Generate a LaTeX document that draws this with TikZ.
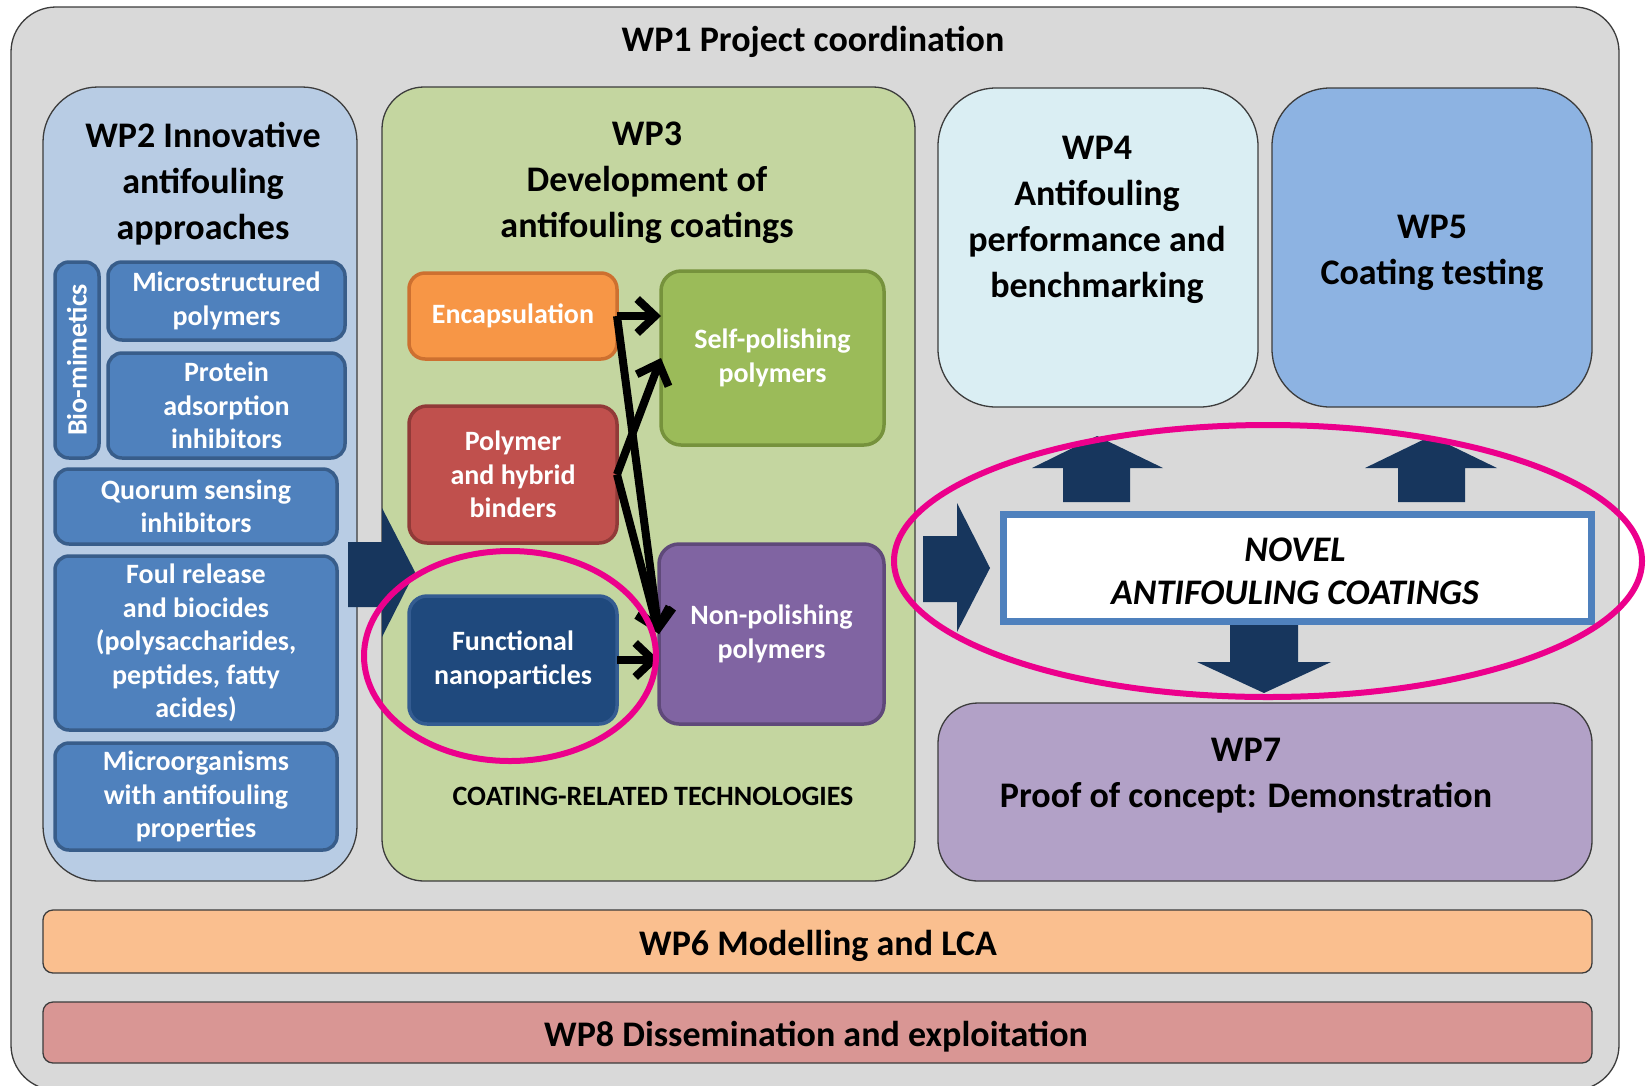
\documentclass[tikz,border=0pt]{standalone}
\usepackage{fontspec}
\setmainfont{Carlito}
\usetikzlibrary{arrows.meta,calc}
\definecolor{outerfill}{RGB}{217,217,217}
\definecolor{wptwo}{RGB}{184,204,228}
\definecolor{wpthree}{RGB}{196,214,160}
\definecolor{wpfour}{RGB}{218,238,243}
\definecolor{wpfive}{RGB}{141,179,226}
\definecolor{wpseven}{RGB}{178,161,199}
\definecolor{wpsix}{RGB}{250,191,143}
\definecolor{wpeight}{RGB}{217,150,148}
\definecolor{bluebox}{RGB}{79,129,189}
\definecolor{blueboxline}{RGB}{56,93,138}
\definecolor{encfill}{RGB}{247,150,70}
\definecolor{encline}{RGB}{205,112,48}
\definecolor{bindfill}{RGB}{192,80,77}
\definecolor{bindline}{RGB}{145,58,56}
\definecolor{fnfill}{RGB}{31,73,125}
\definecolor{fnline}{RGB}{52,92,145}
\definecolor{spfill}{RGB}{155,187,89}
\definecolor{spline}{RGB}{118,146,60}
\definecolor{npfill}{RGB}{128,100,162}
\definecolor{npline}{RGB}{95,73,122}
\definecolor{darkarrow}{RGB}{23,54,93}
\definecolor{hlpink}{RGB}{236,0,140}
\definecolor{framegray}{RGB}{60,60,60}
\newcommand{\wpbig}{\fontsize{36}{46}\selectfont\bfseries}
\newcommand{\wpsmall}{\fontsize{28}{33.5}\selectfont\bfseries}
\begin{document}
\begin{tikzpicture}[x=1pt,y=-1pt,
  wpbox/.style={draw=framegray, line width=1.3pt, inner sep=0pt, outer sep=0pt},
  tbox/.style={line width=3.5pt, inner sep=0pt, outer sep=0pt, text=white, align=center, font=\wpsmall},
  bluetbox/.style={tbox, fill=bluebox, draw=blueboxline, rounded corners=14pt},
  bigtxt/.style={align=center, font=\wpbig, inner sep=0pt},
  conn/.style={draw=black, line width=8pt, -{Straight Barb[length=18pt,width=34pt]}},
  blockarrow/.style={fill=darkarrow},
  highlight/.style={draw=hlpink, line width=6pt}]
\path[use as bounding box] (0,0) rectangle (1646,1085);
\fill[white] (0,0) rectangle (1646,1085);
\clip (0,0) rectangle (1646,1085);
% outer WP1
\node[wpbox, fill=outerfill, rounded corners=45pt, minimum width=1608pt, minimum height=1083pt] (wp1) at (815,548.5) {};
\node[bigtxt] (wp1t) at (813,42) {WP1 Project coordination};
% main boxes
\node[wpbox, fill=wptwo, rounded corners=55pt, minimum width=314pt, minimum height=794pt] (wp2) at (200,484) {};
\node[wpbox, fill=wpthree, rounded corners=42pt, minimum width=533pt, minimum height=794pt] (wp3) at (648.5,484) {};
\node[wpbox, fill=wpfour, rounded corners=58pt, minimum width=320pt, minimum height=319pt] (wp4) at (1098,247.5) {};
\node[wpbox, fill=wpfive, rounded corners=58pt, minimum width=320pt, minimum height=319pt] (wp5) at (1432,247.5) {};
\node[wpbox, fill=wpseven, rounded corners=40pt, minimum width=654pt, minimum height=178pt] (wp7) at (1265,792) {};
\node[wpbox, fill=wpsix, rounded corners=10pt, minimum width=1549pt, minimum height=63pt] (wp6) at (817.5,941.5) {};
\node[wpbox, fill=wpeight, rounded corners=10pt, minimum width=1549pt, minimum height=61pt] (wp8) at (817.5,1032.5) {};
% titles
\node[bigtxt] (wp2t) at (203,184) {WP2 Innovative\\antifouling\\approaches};
\node[bigtxt] (wp3t) at (647,183) {WP3\\Development of\\antifouling coatings};
\node[bigtxt] (wp4t) at (1097,220) {WP4\\Antifouling\\performance and\\benchmarking};
\node[bigtxt] (wp5t) at (1432,253) {WP5\\Coating testing};
\node[bigtxt] (wp7t) at (1246,776) {WP7\\Proof of concept: Demonstration};
\node[bigtxt] (wp6t) at (818,946) {WP6 Modelling and LCA};
\node[bigtxt] (wp8t) at (816,1037) {WP8 Dissemination and exploitation};
% block arrow WP2 -> WP3
\fill[blockarrow] (348,542) -- (382,542) -- (382,508) -- (415,572) -- (382,637) -- (382,607) -- (348,607) -- cycle;
% WP2 inner boxes
\node[bluetbox, rotate=90, minimum width=196pt, minimum height=44pt] (bio) at (77,360) {Bio-mimetics};
\node[bluetbox, minimum width=237pt, minimum height=78pt] (micro) at (226.5,301) {Microstructured\\polymers};
\node[bluetbox, minimum width=237pt, minimum height=105pt] (prot) at (226.5,405.5) {Protein\\adsorption\\inhibitors};
\node[bluetbox, minimum width=282pt, minimum height=75pt] (quor) at (196,506.5) {Quorum sensing\\inhibitors};
\node[bluetbox, minimum width=282pt, minimum height=174pt] (foul) at (196,643) {Foul release\\and biocides\\(polysaccharides,\\peptides, fatty\\acides)};
\node[bluetbox, minimum width=282pt, minimum height=107pt] (morg) at (196,796.5) {Microorganisms\\with antifouling\\properties};
% WP3 inner boxes
\node[tbox, fill=encfill, draw=encline, rounded corners=16pt, minimum width=208pt, minimum height=86pt] (enc) at (513,316) {Encapsulation};
\node[tbox, fill=bindfill, draw=bindline, rounded corners=18pt, minimum width=208pt, minimum height=137pt] (bind) at (513,474.5) {Polymer\\and hybrid\\binders};
\node[tbox, fill=fnfill, draw=fnline, rounded corners=18pt, minimum width=208pt, minimum height=128pt] (fn) at (513,660) {Functional\\nanoparticles};
\node[tbox, fill=spfill, draw=spline, rounded corners=20pt, minimum width=223pt, minimum height=174pt] (sp) at (772.5,358) {Self-polishing\\polymers};
\node[tbox, fill=npfill, draw=npline, rounded corners=20pt, minimum width=225pt, minimum height=180pt] (np) at (771.5,634) {Non-polishing\\polymers};
\node[bigtxt, font=\wpsmall] (crt) at (653,796) {COATING-RELATED TECHNOLOGIES};
% connectors
\draw[conn] (enc.east) -- (enc.east -| sp.west);
\draw[conn] (enc.east) -- (np.west);
\draw[conn] (bind.east) -- (sp.west);
\draw[conn] (bind.east) -- (np.west);
\draw[conn] (fn.east) -- (fn.east -| np.west);
% novel box and block arrows
\fill[blockarrow] (923,536) -- (957,536) -- (957,503) -- (990,568) -- (957,632) -- (957,602) -- (923,602) -- cycle;
\fill[blockarrow] (1063,502) -- (1063,468) -- (1032,468) -- (1097,436) -- (1163,468) -- (1130,468) -- (1130,502) -- cycle;
\fill[blockarrow] (1398,502) -- (1398,468) -- (1365,468) -- (1431,436) -- (1497,468) -- (1465,468) -- (1465,502) -- cycle;
\fill[blockarrow] (1230,620) -- (1298,620) -- (1298,662) -- (1331,662) -- (1264,693) -- (1197,662) -- (1230,662) -- cycle;
\node[draw=bluebox, fill=white, line width=7pt, inner sep=0pt, minimum width=588pt, minimum height=107pt] (novel) at (1297.5,568) {};
\node[bigtxt, font=\fontsize{36}{43}\selectfont\bfseries\itshape] (novelt) at (1295,571) {NOVEL\\ANTIFOULING COATINGS};
% highlights
\draw[highlight] (510,656) ellipse [x radius=146pt, y radius=105pt];
\draw[highlight] (1268,561) ellipse [x radius=374pt, y radius=136pt];
\end{tikzpicture}
\end{document}
